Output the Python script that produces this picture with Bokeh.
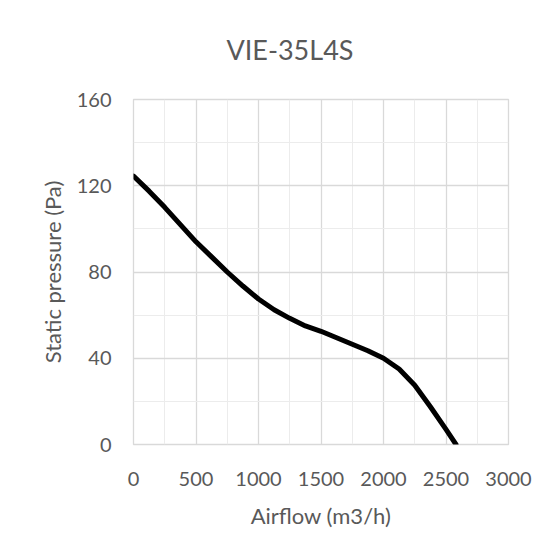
from bokeh.plotting import figure
from bokeh.models import Range1d, FixedTicker, Title
from bokeh.embed import file_html
from bokeh.resources import INLINE

title_text = "VIE-35L4S"
x_label = "Airflow (m3/h)"
y_label = "Static pressure (Pa)"

airflow = [0, 125, 250, 375, 500, 625, 750, 875, 1000, 1125, 1250, 1375, 1500,
           1625, 1750, 1875, 2000, 2125, 2250, 2375, 2500, 2580]
pressure = [124.5, 117.5, 110, 102, 94, 87, 80, 73.5, 67.5, 62.5, 58.5, 55, 52.5,
            49.5, 46.5, 43.5, 40, 35, 27.5, 17.5, 7, 0]

x_ticks = [0, 500, 1000, 1500, 2000, 2500, 3000]
x_minor = [250, 750, 1250, 1750, 2250, 2750]
y_ticks = [0, 40, 80, 120, 160]
y_minor = [20, 60, 100, 140]

FONT = "Lato"
TXT = "#595959"
MAJ = "#d9d9d9"
MIN = "#ececec"
W, H = 546, 551

p = figure(width=W, height=H, frame_width=375, frame_height=345,
           min_border_left=133, min_border_right=38, min_border_top=98, min_border_bottom=108,
           x_range=Range1d(0, 3000), y_range=Range1d(0, 160),
           output_backend="svg", toolbar_location=None, title=None)

p.line(airflow, pressure, line_color="black", line_width=5, line_join="round", line_cap="round")

t = Title(text=title_text, align="left", offset=93, standoff=64, vertical_align="top",
          text_font=FONT, text_font_size="27px", text_color=TXT, text_font_style="normal")
p.add_layout(t, "above")

p.xaxis.ticker = FixedTicker(ticks=x_ticks, minor_ticks=x_minor)
p.yaxis.ticker = FixedTicker(ticks=y_ticks, minor_ticks=y_minor)

for ax in (p.xaxis, p.yaxis):
    ax.axis_line_color = None
    ax.major_tick_line_color = None
    ax.minor_tick_line_color = None
    ax.major_label_text_font = FONT
    ax.major_label_text_font_size = "20px"
    ax.major_label_text_color = TXT
    ax.axis_label_text_font = FONT
    ax.axis_label_text_font_size = "22px"
    ax.axis_label_text_color = TXT
    ax.axis_label_text_font_style = "normal"

p.xaxis.axis_label = x_label
p.yaxis.axis_label = y_label
p.xaxis.major_label_standoff = 21
p.yaxis.major_label_standoff = 16
p.xaxis.axis_label_standoff = 13
p.yaxis.axis_label_standoff = 8

p.xgrid.grid_line_color = MAJ
p.ygrid.grid_line_color = MAJ
p.xgrid.minor_grid_line_color = MIN
p.ygrid.minor_grid_line_color = MIN
p.xgrid.grid_line_width = 1.3
p.ygrid.grid_line_width = 1.3
p.outline_line_color = MAJ
p.outline_line_width = 1.3
p.background_fill_color = "white"
p.border_fill_color = "white"

open("out.html", "w").write(file_html(p, INLINE))
